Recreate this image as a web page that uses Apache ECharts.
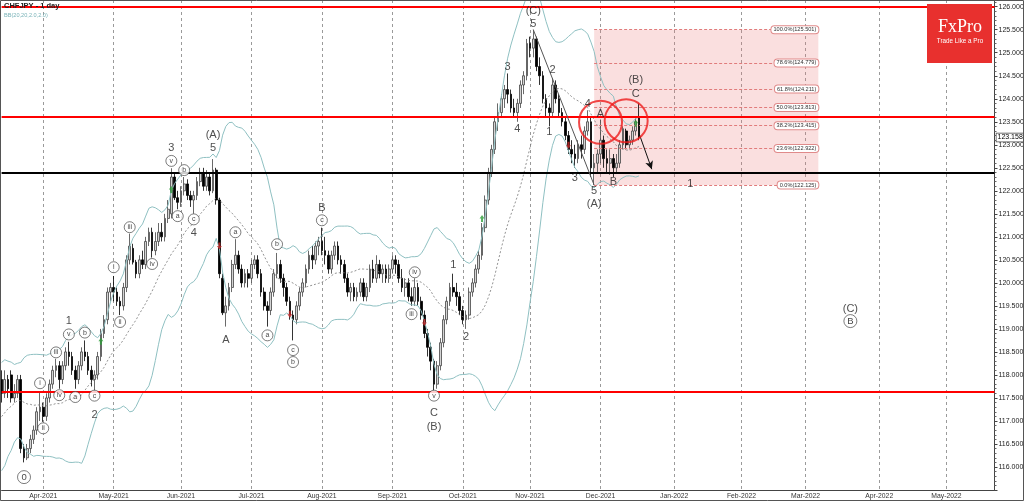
<!DOCTYPE html>
<html><head><meta charset="utf-8">
<script src="https://cdn.jsdelivr.net/npm/echarts/dist/echarts.min.js"></script>
<style>html,body{margin:0;padding:0;background:#fff}#c{width:1024px;height:501px}</style>
</head><body><div id="c"></div>
<script>
const chartTitle = 'CHFJPY - 1 day';
const indicatorName = 'BB(20,20,2.0,2.0)';
const startDate = '2021-03-15';
const dayCount = 311;
const monthNames = ['Jan','Feb','Mar','Apr','May','Jun','Jul','Aug','Sep','Oct','Nov','Dec'];

// closes before the first visible bar (only used to warm up the Bollinger window)
const priorCloses = [116.2,116.0,116.4,116.3,116.7,116.5,116.9,117.1,116.8,117.2,117.0,117.4,117.3,117.6,117.5,117.9,117.7,118.0,117.8];

// daily candles [open, close, low, high]
const mar2021 = [[117.9,117.6,117.4,118.1],[117.6,117.9,117.5,118.1],[117.9,117.7,117.5,118.0],[118.0,117.5,117.4,118.1],[117.5,117.6,117.4,117.8],[117.6,117.9,117.5,118.0],[117.9,116.4,116.3,118.0],[116.4,116.2,116.1,116.5],[116.2,116.4,116.15,116.5],[116.4,116.6,116.3,116.7],[116.6,116.8,116.5,116.9],[116.8,117.2,116.7,117.3],[117.2,117.3,117.0,117.65]];
const apr2021 = [[117.3,117.1,116.98,117.4],[117.1,117.5,117.0,117.6],[117.5,117.8,117.4,117.9],[117.8,118.1,117.7,118.2],[118.1,118.2,117.95,118.35],[118.2,117.9,117.7,118.3],[117.9,118.2,117.8,118.3],[118.2,118.5,118.1,118.6],[118.5,118.4,118.2,118.72],[118.4,118.1,118.0,118.5],[118.1,117.9,117.7,118.2],[117.9,118.2,117.8,118.3],[118.2,118.5,118.1,118.6],[118.5,118.4,118.3,118.75],[118.4,118.1,118.0,118.5],[118.1,117.9,117.75,118.2],[117.9,118.0,117.65,118.1],[118.0,118.4,117.9,118.5],[118.4,118.9,118.3,119.0],[118.9,119.2,118.8,119.3],[119.2,119.8,119.1,119.9],[119.8,119.9,119.6,120.0]];
const may2021 = [[119.9,119.8,119.6,120.15],[119.8,119.6,119.5,119.9],[119.6,119.5,119.3,119.7],[119.5,119.9,119.4,120.0],[119.9,120.5,119.8,120.6],[120.5,120.8,120.4,121.07],[120.75,120.45,120.4,120.85],[120.45,120.2,120.1,120.5],[120.2,120.5,120.1,120.6],[120.5,120.4,120.3,120.7],[120.4,120.9,120.3,121.0],[120.9,121.1,120.8,121.2],[121.1,120.7,120.55,121.2],[120.7,120.9,120.6,121.1],[120.9,121.1,120.8,121.3],[121.1,121.0,120.9,121.3],[121.0,121.4,120.9,121.5],[121.4,121.6,121.3,121.8],[121.5,122.3,121.4,122.49],[122.3,121.85,121.8,122.4],[121.85,121.75,121.6,122.0]];
const jun2021 = [[121.75,122.0,121.65,122.1],[122.0,122.15,121.9,122.3],[122.15,121.9,121.8,122.25],[121.9,121.8,121.65,122.0],[121.8,121.9,121.5,122.0],[121.9,122.2,121.8,122.3],[122.2,122.4,122.1,122.5],[122.4,122.1,122.0,122.5],[122.1,122.3,122.0,122.45],[122.3,122.0,121.9,122.4],[122.0,122.45,121.95,122.69],[122.45,121.8,121.7,122.5],[121.8,120.2,120.1,121.85],[120.1,119.35,119.3,120.2],[119.35,119.5,119.05,119.7],[119.5,119.9,119.4,120.0],[119.9,120.4,119.8,120.5],[120.4,120.6,120.3,120.95],[120.6,120.3,120.2,120.7],[120.3,120.0,119.9,120.4],[120.0,120.2,119.9,120.3],[120.2,120.1,119.9,120.3]];
const jul2021 = [[120.1,120.4,120.0,120.5],[120.4,120.5,120.3,120.6],[120.5,120.2,120.1,120.6],[120.2,119.8,119.7,120.3],[119.8,119.5,119.4,119.9],[119.5,119.4,119.05,119.6],[119.4,119.8,119.3,119.9],[119.8,120.2,119.7,120.3],[120.2,120.4,120.1,120.65],[120.4,120.1,120.0,120.5],[120.1,119.9,119.7,120.2],[119.9,119.6,119.5,120.0],[119.6,119.3,119.2,119.7],[119.3,119.2,118.75,119.4],[119.2,119.5,119.1,119.6],[119.5,119.8,119.4,119.9],[119.8,120.0,119.7,120.1],[120.0,120.3,119.9,120.4],[120.3,120.6,120.2,120.7],[120.6,120.5,120.3,120.8],[120.5,120.8,120.4,120.9],[120.8,120.9,120.6,121.0]];
const aug2021 = [[120.9,120.7,120.6,121.2],[120.7,120.6,120.4,121.0],[120.6,120.3,120.2,120.7],[120.3,120.6,120.2,120.7],[120.6,120.8,120.5,120.9],[120.8,120.5,120.4,120.9],[120.5,120.4,120.2,120.6],[120.4,120.1,120.0,120.5],[120.1,119.8,119.7,120.2],[119.8,119.9,119.6,120.0],[119.9,119.7,119.6,120.0],[119.7,119.8,119.6,119.9],[119.8,120.0,119.7,120.1],[120.0,119.7,119.6,120.1],[119.7,119.9,119.6,120.0],[119.9,120.3,119.8,120.4],[120.3,120.1,120.0,120.5],[120.1,120.4,120.0,120.6],[120.4,120.2,120.1,120.5],[120.2,120.3,120.0,120.4],[120.3,120.1,120.0,120.4],[120.1,120.3,120.0,120.4]];
const sep2021 = [[120.3,120.5,120.2,120.6],[120.5,120.4,120.2,120.6],[120.4,120.1,120.0,120.5],[120.1,119.9,119.8,120.3],[119.9,120.0,119.7,120.1],[120.0,119.7,119.6,120.1],[119.7,119.6,119.5,119.9],[119.6,119.9,119.5,120.1],[119.9,119.6,119.5,120.0],[119.6,119.3,119.2,119.7],[119.3,118.9,118.8,119.4],[118.9,118.6,118.4,119.0],[118.6,118.3,118.1,118.7],[118.3,117.8,117.66,118.35],[117.8,118.2,117.7,118.3],[118.2,118.7,118.1,118.8],[118.7,119.2,118.6,119.3],[119.2,119.6,119.1,119.7],[119.6,119.9,119.5,120.0],[119.9,119.8,119.7,120.2],[119.8,119.7,119.5,120.0],[119.7,119.4,119.3,119.8]];
const oct2021 = [[119.4,119.2,119.1,119.5],[119.2,119.3,119.0,119.4],[119.3,119.8,119.2,119.9],[119.8,120.0,119.7,120.1],[120.0,120.3,119.9,120.4],[120.3,120.6,120.2,120.7],[120.6,121.2,120.5,121.3],[121.2,121.8,121.1,121.9],[121.8,122.4,121.7,122.5],[122.4,122.9,122.3,123.0],[122.9,123.5,122.8,123.6],[123.5,123.7,123.3,123.9],[123.7,124.0,123.6,124.1],[124.0,124.2,123.8,124.3],[124.2,124.1,123.9,124.55],[124.1,123.8,123.7,124.2],[123.8,123.7,123.6,124.0],[123.7,123.9,123.5,124.0],[123.9,124.3,123.8,124.4],[124.3,124.5,124.1,124.6],[124.5,125.2,124.4,125.3]];
const nov2021 = [[125.2,125.1,124.9,125.35],[125.1,125.3,124.9,125.501],[125.3,124.7,124.6,125.35],[124.7,124.5,124.3,124.9],[124.5,124.0,123.9,124.6],[124.0,123.8,123.6,124.1],[123.8,123.7,123.4,123.9],[123.7,124.3,123.6,124.45],[124.3,124.0,123.9,124.4],[124.0,123.7,123.6,124.1],[123.7,123.5,123.4,123.8],[123.5,123.2,123.1,123.6],[123.2,122.9,122.8,123.3],[122.9,122.8,122.6,123.1],[122.8,122.7,122.5,123.0],[122.7,123.0,122.6,123.1],[123.0,122.9,122.7,123.2],[122.9,123.3,122.8,123.4],[123.3,123.5,123.2,123.75],[123.5,122.5,122.3,123.6],[122.5,122.6,122.125,122.8],[122.6,122.8,122.4,122.9]];
const dec2021 = [[122.8,123.1,122.6,123.55],[123.1,122.7,122.5,123.2],[122.7,122.6,122.4,122.9],[122.6,122.7,122.35,122.9],[122.7,122.5,122.3,122.8],[122.5,122.6,122.4,122.8],[122.6,123.0,122.5,123.1],[123.0,123.35,122.9,123.4],[123.3,123.0,122.9,123.35],[123.0,123.1,122.9,123.2],[123.1,123.3,123.0,123.4],[123.3,123.5,123.2,123.6],[123.6,123.158,123.1,123.9]];

const lastPrice = 123.158;
const redLevels = [126.0, 123.6, 117.63];
const blackLevels = [122.4];

const fibPercent = ['100.0%','78.6%','61.8%','50.0%','38.2%','23.6%','0.0%'];
const fibPrice = [125.501,124.779,124.211,123.813,123.415,122.922,122.125];
const fibStartIndex = 185, fibEndIndex = 255;

const trendFrom = [166, 125.501], trendTo = [185, 122.125];
const arrowFrom = [199, 123.25], arrowTo = [203, 122.47];

const circleIndex = [187, 195];
const circlePrice = [123.49, 123.52];

const waveText  = ['1','2','3','(A)','5','4','A','B','C','(B)','1','2','3','4','(C)','5','2','1','3','4','5','(A)','A','B','C','(B)','1','(C)'];
const waveIndex = [21,29,53,66,66,60,70,100,135,135,141,145,158,161,166,166,172,171,179,183,185,185,187,191,198,198,215,265];
const wavePrice = [119.17,117.12,122.93,123.21,122.93,121.08,118.75,121.62,117.17,116.88,120.38,118.82,124.69,123.34,125.91,125.62,124.62,123.28,122.28,123.88,121.99,121.71,123.67,122.19,124.10,124.41,122.15,119.43];

const subText  = ['i','ii','iii','iv','v','a','b','c','i','ii','iii','iv','v','a','b','c','a','a','b','c','b','c','iii','iv','v'];
const subIndex = [12,13,17,18,21,23,26,29,35,37,40,47,53,55,57,60,73,83,86,91,91,100,128,129,135];
const subPrice = [117.82,116.84,118.49,117.56,118.88,117.52,118.92,117.55,120.34,119.15,121.21,120.41,122.65,121.45,122.45,121.38,121.10,118.86,120.84,118.54,118.28,121.36,119.32,120.23,117.55];

const bigText  = ['0','B'];
const bigIndex = [7, 265];
const bigPrice = [115.78, 119.17];

const upSignalIndex = [31,53,150,198];
const upSignalPrice = [118.73,122.03,121.4,123.47];
const downSignalIndex = [68,90,132,177];
const downSignalPrice = [120.8,119.32,119.14,122.99];

// ---- build ----
const candles = [].concat(mar2021, apr2021, may2021, jun2021, jul2021, aug2021, sep2021, oct2021, nov2021, dec2021);
const dates = [];
(function(){
  const d = new Date(startDate + 'T00:00:00Z');
  while (dates.length < dayCount) {
    const wd = d.getUTCDay();
    if (wd !== 0 && wd !== 6) dates.push(d.toISOString().slice(0,10));
    d.setUTCDate(d.getUTCDate() + 1);
  }
})();
function isMonthStart(i){ return i > 0 && dates[i].slice(5,7) !== dates[i-1].slice(5,7); }

const closes = priorCloses.concat(candles.map(c => c[1]));
const bbUp = [], bbMid = [], bbLow = [];
for (let i = 0; i < candles.length; i++) {
  const w = closes.slice(i, i + 20);
  const m = w.reduce((a,b)=>a+b,0) / w.length;
  const sd = Math.sqrt(w.reduce((a,b)=>a+(b-m)*(b-m),0) / w.length);
  bbMid.push(+m.toFixed(4)); bbUp.push(+(m+2*sd).toFixed(4)); bbLow.push(+(m-2*sd).toFixed(4));
}
const pt = (i, p) => [dates[i], p];

const chart = echarts.init(document.getElementById('c'));
chart.setOption({
  animation: false,
  backgroundColor: '#fff',
  grid: { left: 1.6, right: 29.5, top: 0, bottom: 11, outerBoundsMode: 'none' },
  xAxis: {
    type: 'category', data: dates, boundaryGap: false,
    axisLine: { lineStyle: { color: '#444', width: 1 } },
    axisTick: { show: false },
    axisLabel: { interval: (i) => isMonthStart(i), fontSize: 6.8, color: '#333', margin: 3, fontFamily: 'Arial',
      formatter: v => monthNames[+v.slice(5,7)-1] + '-' + v.slice(0,4) },
    splitLine: { show: true, interval: (i) => isMonthStart(i), lineStyle: { color: '#9a9a9a', type: [3,3], width: 1 } }
  },
  yAxis: {
    type: 'value', position: 'right', min: 115.5, max: 126.146, interval: 0.5,
    axisLine: { show: true, lineStyle: { color: '#444' } },
    axisTick: { show: true, length: 3, lineStyle: { color: '#444' } },
    minorTick: { show: true, splitNumber: 5, length: 2, lineStyle: { color: '#666' } },
    splitLine: { show: false },
    axisLabel: { fontSize: 7, color: '#222', margin: 4, fontFamily: 'Arial',
      formatter: v => (v < 115.9 || v > 126.01) ? '' : v.toFixed(3) }
  },
  series: [
    { name: 'fib', type: 'line', data: [], silent: true, z: 1,
      markArea: { silent: true, itemStyle: { color: 'rgba(235,120,120,0.24)' },
        data: [[ { coord: pt(fibStartIndex, fibPrice[0]) }, { coord: pt(fibEndIndex, fibPrice[fibPrice.length-1]) } ]] },
      markLine: { silent: true, symbol: ['none','none'], label: { show: false },
        lineStyle: { color: '#e07c7c', type: [3,2], width: 1 },
        data: fibPrice.map(p => [ { coord: pt(fibStartIndex, p) }, { coord: pt(fibEndIndex, p) } ]) },
      markPoint: { silent: true, symbol: 'rect', symbolSize: 0,
        label: { show: true, position: 'left', distance: 0, formatter: '{b}', fontSize: 5.6, fontFamily: 'Arial', color: '#333',
          backgroundColor: '#fff', borderColor: '#e08a8a', borderWidth: 1, borderRadius: 3, padding: [1,2,0,2] },
        data: fibPrice.map((p,k) => ({ name: fibPercent[k] + '(' + p.toFixed(3) + ')', coord: pt(fibEndIndex, p) })) }
    },
    { name: 'CHFJPY', type: 'candlestick', data: candles, z: 2, barWidth: 2.2,
      itemStyle: { color: '#d4d4d4', color0: '#000', borderColor: '#444', borderColor0: '#000', borderWidth: 0.8 },
      markPoint: { silent: true, symbol: 'rect', symbolSize: 0,
        label: { show: true, position: 'right', distance: 2, formatter: '{b}', fontSize: 7, fontFamily: 'Arial', color: '#000',
          backgroundColor: '#fff', borderColor: '#444', borderWidth: 0.7, padding: [1,1,0,1] },
        data: [ { name: lastPrice.toFixed(3), coord: pt(dayCount-1, lastPrice) } ] }
    },
    { name: 'BB upper', type: 'line', data: bbUp, showSymbol: false, symbol: 'none', z: 3,
      lineStyle: { color: '#8fc0c2', width: 1 } },
    { name: 'BB lower', type: 'line', data: bbLow, showSymbol: false, symbol: 'none', z: 3,
      lineStyle: { color: '#8fc0c2', width: 1 } },
    { name: 'BB mid', type: 'line', data: bbMid, showSymbol: false, symbol: 'none', z: 3,
      lineStyle: { color: '#777', width: 0.8, type: [2,2] } },
    { name: 'levels', type: 'line', data: [], silent: true, z: 4,
      markLine: { silent: true, symbol: ['none','none'], label: { show: false },
        data: redLevels.map(v => ({ yAxis: v, lineStyle: { color: '#ff0000', width: 2, type: 'solid' } }))
          .concat(blackLevels.map(v => ({ yAxis: v, lineStyle: { color: '#000', width: 2, type: 'solid' } })))
          .concat([
            [ { coord: pt(trendFrom[0], trendFrom[1]), lineStyle: { color: '#555', width: 1, type: 'solid' } }, { coord: pt(trendTo[0], trendTo[1]) } ],
            [ { coord: pt(arrowFrom[0], arrowFrom[1]), lineStyle: { color: '#111', width: 1, type: 'solid' } }, { coord: pt(arrowTo[0], arrowTo[1]), symbol: 'arrow', symbolSize: [6,8] } ]
          ]) }
    },
    { name: 'circles', type: 'scatter', z: 5, silent: true, symbol: 'circle', symbolSize: 43,
      itemStyle: { color: 'rgba(0,0,0,0)', borderColor: '#ee1b1b', borderWidth: 2 },
      data: circleIndex.map((i,k) => pt(i, circlePrice[k])) },
    { name: 'upSignals', type: 'scatter', z: 6, silent: true,
      symbol: 'path://M5,0 L10,6 L7,6 L7,12 L3,12 L3,6 L0,6 Z', symbolSize: [5,7],
      itemStyle: { color: '#2e9e3a' }, data: upSignalIndex.map((i,k) => pt(i, upSignalPrice[k])) },
    { name: 'downSignals', type: 'scatter', z: 6, silent: true,
      symbol: 'path://M5,12 L10,6 L7,6 L7,0 L3,0 L3,6 L0,6 Z', symbolSize: [5,7],
      itemStyle: { color: '#c62828' }, data: downSignalIndex.map((i,k) => pt(i, downSignalPrice[k])) },
    { name: 'subwaves', type: 'scatter', z: 8, silent: true, symbol: 'circle', symbolSize: 11,
      itemStyle: { color: '#fff', borderColor: '#333', borderWidth: 0.8 },
      label: { show: true, position: 'inside', formatter: '{b}', fontSize: 7, fontFamily: 'Arial', color: '#111' },
      data: subText.map((t,k) => ({ name: t, value: pt(subIndex[k], subPrice[k]) })) },
    { name: 'bigCircled', type: 'scatter', z: 8, silent: true, symbol: 'circle', symbolSize: 13,
      itemStyle: { color: '#fff', borderColor: '#333', borderWidth: 0.8 },
      label: { show: true, position: 'inside', formatter: '{b}', fontSize: 9.5, fontFamily: 'Arial', color: '#111' },
      data: bigText.map((t,k) => ({ name: t, value: pt(bigIndex[k], bigPrice[k]) })) },
    { name: 'waves', type: 'scatter', z: 9, silent: true, symbol: 'circle', symbolSize: 0.1,
      itemStyle: { color: 'rgba(0,0,0,0)' },
      label: { show: true, position: 'inside', formatter: '{b}', fontSize: 11, fontFamily: 'Arial', color: '#222' },
      data: waveText.map((t,k) => ({ name: t, value: pt(waveIndex[k], wavePrice[k]) })) }
  ],
  graphic: [
    { type: 'text', x: 4, y: 2, z: 100, style: { text: chartTitle, fontSize: 7.5, fontWeight: 'bold', fontFamily: 'Arial', fill: '#222', align: 'left', verticalAlign: 'top' } },
    { type: 'text', x: 4, y: 12, z: 100, style: { text: indicatorName, fontSize: 5.6, fontFamily: 'Arial', fill: '#7ab3b8', align: 'left', verticalAlign: 'top' } },
    { type: 'rect', z: 100, shape: { x: 927, y: 4, width: 65, height: 59 }, style: { fill: '#e8302e' } },
    { type: 'text', x: 960, y: 27, z: 101, style: { text: 'FxPro', fontSize: 18, fontFamily: 'Liberation Serif', fill: '#fff', align: 'center', verticalAlign: 'middle' } },
    { type: 'text', x: 960, y: 41, z: 101, style: { text: 'Trade Like a Pro', fontSize: 6.3, fontFamily: 'Arial', fill: '#fff', align: 'center', verticalAlign: 'middle' } },
    { type: 'rect', z: 100, silent: true, shape: { x: 0.5, y: 0.5, width: 1023, height: 500 }, style: { fill: 'none', stroke: '#555', lineWidth: 1 } }
  ]
});
</script></body></html>
